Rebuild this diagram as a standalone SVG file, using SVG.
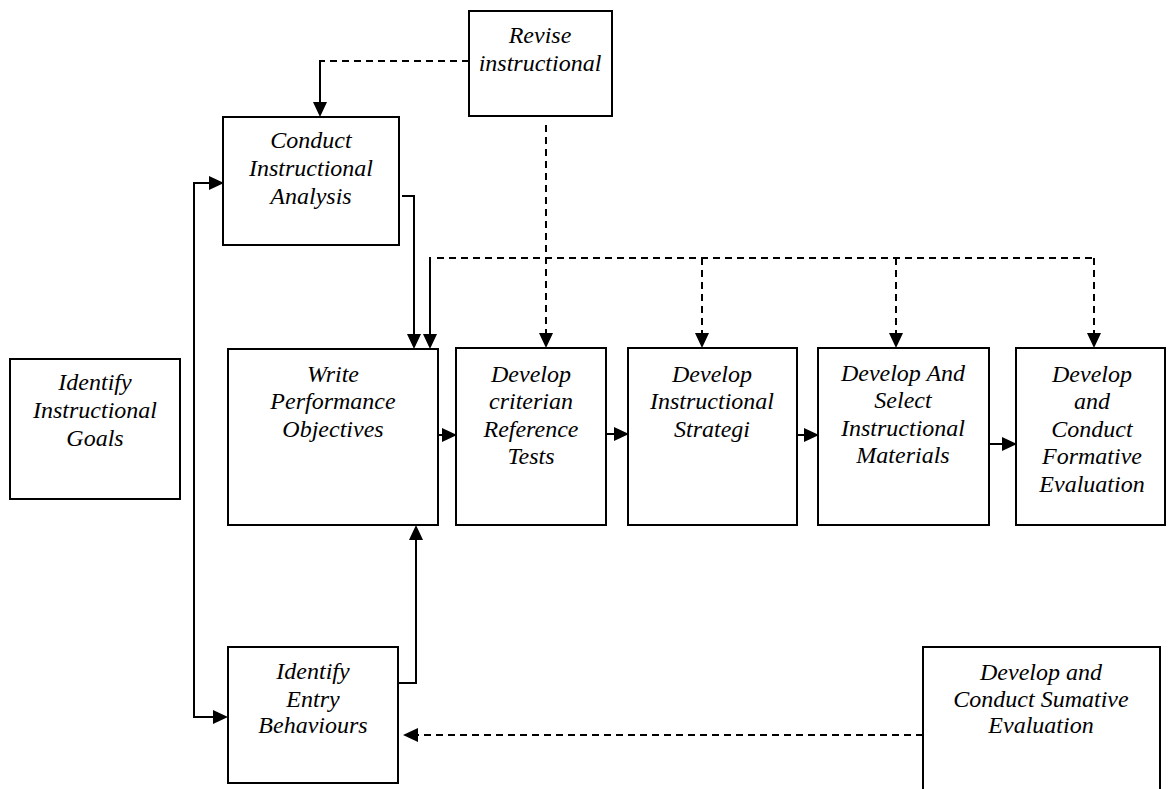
<svg xmlns="http://www.w3.org/2000/svg" width="1168" height="789" viewBox="0 0 1168 789">
<style>
.box{fill:#fff;stroke:#000;stroke-width:2}
.ln{fill:none;stroke:#000;stroke-width:2}
.ds{fill:none;stroke:#000;stroke-width:2;stroke-dasharray:7 5}
.ah{fill:#000;stroke:none}
</style>
<rect width="1168" height="789" fill="#fff"/>
<g id="connectors">
<path class="ds" d="M469,61 H321"/>
<path class="ln" d="M320,60 V103"/>
<path class="ah" d="M313,102 L327,102 L320,117 Z"/>
<path class="ln" d="M402,196 H414 V335"/>
<path class="ah" d="M407,334 L421,334 L414,349 Z"/>
<path class="ln" d="M430,257 V335"/>
<path class="ah" d="M423,334 L437,334 L430,349 Z"/>
<path class="ds" d="M437,258 H1094"/>
<path class="ds" d="M546,125 V334"/>
<path class="ah" d="M539,333 L553,333 L546,348 Z"/>
<path class="ds" d="M702,258 V334"/>
<path class="ah" d="M695,333 L709,333 L702,348 Z"/>
<path class="ds" d="M896,258 V334"/>
<path class="ah" d="M889,333 L903,333 L896,348 Z"/>
<path class="ds" d="M1094,258 V334"/>
<path class="ah" d="M1087,333 L1101,333 L1094,348 Z"/>
<path class="ln" d="M194,183 V717 H213"/>
<path class="ah" d="M213,710 L213,724 L228,717 Z"/>
<path class="ln" d="M193,183 H209"/>
<path class="ah" d="M209,176 L209,190 L224,183 Z"/>
<path class="ln" d="M398,683 H416 V539"/>
<path class="ah" d="M409,540 L423,540 L416,525 Z"/>
<path class="ln" d="M438,435 H443"/>
<path class="ah" d="M442,428 L442,442 L457,435 Z"/>
<path class="ln" d="M606,434 H615"/>
<path class="ah" d="M614,427 L614,441 L629,434 Z"/>
<path class="ln" d="M797,435 H805"/>
<path class="ah" d="M804,428 L804,442 L819,435 Z"/>
<path class="ln" d="M989,444 H1003"/>
<path class="ah" d="M1002,437 L1002,451 L1017,444 Z"/>
<path class="ds" d="M923,735 H416"/>
<path class="ah" d="M418,728 L418,742 L403,735 Z"/>
</g>
<g font-family="Liberation Serif" font-style="italic" font-size="24" text-anchor="middle" fill="#000">
<g id="revise">
<rect class="box" x="469" y="11" width="143" height="105"/>
<text x="540" y="43">Revise</text>
<text x="540" y="71">instructional</text>
</g>
<g id="conduct">
<rect class="box" x="223" y="117" width="176" height="128"/>
<text x="311" y="148">Conduct</text>
<text x="311" y="176">Instructional</text>
<text x="311" y="204">Analysis</text>
</g>
<g id="goals">
<rect class="box" x="10" y="359" width="170" height="140"/>
<text x="95" y="390">Identify</text>
<text x="95" y="418">Instructional</text>
<text x="95" y="446">Goals</text>
</g>
<g id="write">
<rect class="box" x="228" y="349" width="210" height="176"/>
<text x="333" y="382">Write</text>
<text x="333" y="409">Performance</text>
<text x="333" y="437">Objectives</text>
</g>
<g id="criterian">
<rect class="box" x="456" y="348" width="150" height="177"/>
<text x="531" y="382">Develop</text>
<text x="531" y="409">criterian</text>
<text x="531" y="437">Reference</text>
<text x="531" y="464">Tests</text>
</g>
<g id="strategi">
<rect class="box" x="628" y="348" width="169" height="177"/>
<text x="712" y="382">Develop</text>
<text x="712" y="409">Instructional</text>
<text x="712" y="437">Strategi</text>
</g>
<g id="materials">
<rect class="box" x="818" y="348" width="171" height="177"/>
<text x="903" y="381">Develop And</text>
<text x="903" y="408">Select</text>
<text x="903" y="436">Instructional</text>
<text x="903" y="463">Materials</text>
</g>
<g id="formative">
<rect class="box" x="1016" y="348" width="149" height="177"/>
<text x="1092" y="382">Develop</text>
<text x="1092" y="409">and</text>
<text x="1092" y="437">Conduct</text>
<text x="1092" y="464">Formative</text>
<text x="1092" y="492">Evaluation</text>
</g>
<g id="entry">
<rect class="box" x="228" y="647" width="170" height="136"/>
<text x="313" y="679">Identify</text>
<text x="313" y="707">Entry</text>
<text x="313" y="733">Behaviours</text>
</g>
<g id="sumative">
<rect class="box" x="923" y="647" width="237" height="160"/>
<text x="1041" y="680">Develop and</text>
<text x="1041" y="707">Conduct Sumative</text>
<text x="1041" y="733">Evaluation</text>
</g>
</g>
</svg>
